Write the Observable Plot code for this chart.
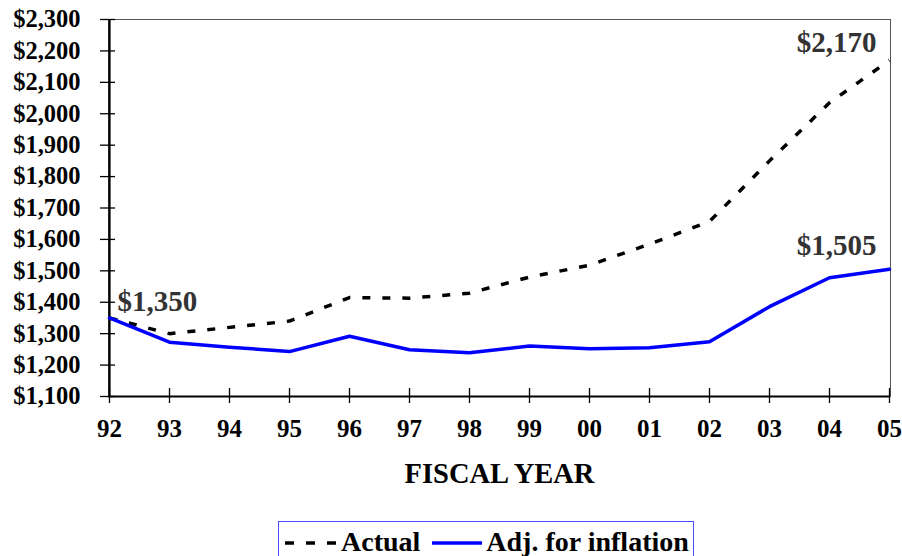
<!DOCTYPE html>
<html>
<head>
<meta charset="utf-8">
<script src="https://cdn.jsdelivr.net/npm/d3@7"></script>
<script src="https://cdn.jsdelivr.net/npm/@observablehq/plot@0.6"></script>
<style>
  html, body { margin: 0; padding: 0; background: #fff; }
  body { width: 902px; height: 556px; overflow: hidden; font-family: "Liberation Serif", "Times New Roman", serif; }
  #legend { position: absolute; left: 278px; top: 521px; height: 42px; border: 1.5px solid #4a4aff; box-sizing: border-box;
    display: flex; align-items: flex-start; padding: 6px 4px 0 6px; font-weight: bold; font-size: 28px; line-height: 28px;
    color: #000; white-space: nowrap; font-family: "Liberation Serif", "Times New Roman", serif; font-variant-ligatures: none; }
  #legend span { font-family: "Liberation Serif", "Times New Roman", serif; font-weight: bold; }
  #legend svg { display: block; margin-top: 8px; }
</style>
</head>
<body>
<div id="chart"></div>
<div id="legend"></div>
<script>
const years = ["92","93","94","95","96","97","98","99","00","01","02","03","04","05"];
const actual = [1350, 1300, 1320, 1340, 1415, 1413, 1429, 1480, 1518, 1585, 1657, 1850, 2035, 2170];
const adjusted = [1350, 1273, 1257, 1243, 1292, 1249, 1239, 1261, 1252, 1255, 1274, 1386, 1478, 1505];
const yTicks = [1100,1200,1300,1400,1500,1600,1700,1800,1900,2000,2100,2200,2300];
const seriesNames = ["Actual", "Adj. for inflation"];

const rows = [];
years.forEach((y, i) => {
  rows.push({year: y, value: actual[i], series: seriesNames[0]});
  rows.push({year: y, value: adjusted[i], series: seriesNames[1]});
});
const fmt = d => "$" + d3.format(",")(d);
const last = years.length - 1;
const font = '"Liberation Serif", "Times New Roman", serif';

const chart = Plot.plot({
  width: 902,
  height: 512,
  marginLeft: 108,
  marginRight: 12,
  marginTop: 19,
  marginBottom: 116,
  style: {fontFamily: font, fontWeight: "bold", color: "#000", background: "#fff"},
  x: {type: "point", domain: years, padding: 0},
  y: {domain: [1100, 2300]},
  marks: [
    Plot.frame({stroke: "#555", strokeWidth: 1}),
    Plot.axisY({ticks: yTicks, tickSize: 8, tickPadding: 20, tickFormat: fmt, fontSize: 24.5, fontWeight: "bold", stroke: "#000", strokeWidth: 1.3, label: null}),
    Plot.axisY({ticks: yTicks, tickSize: -7, tickFormat: () => "", stroke: "#000", strokeWidth: 1.3, label: null}),
    Plot.axisX({tickSize: 7, tickPadding: 16, fontSize: 25, fontWeight: "bold", stroke: "#000", strokeWidth: 1.3, label: null}),
    Plot.axisX({tickSize: -8, tickFormat: () => "", stroke: "#000", strokeWidth: 1.3, label: null}),
    Plot.ruleX([years[0]], {stroke: "#000", strokeWidth: 2.2}),
    Plot.ruleY([yTicks[0]], {stroke: "#000", strokeWidth: 2.2}),
    Plot.text(["FISCAL YEAR"], {frameAnchor: "bottom", dy: 86, fontSize: 28.5, fontWeight: "bold", fill: "#000"}),
    Plot.line(rows.filter(d => d.series === seriesNames[0]), {x: "year", y: "value", stroke: "#000", strokeWidth: 3.5, strokeDasharray: "8,12", strokeLinecap: "butt"}),
    Plot.line(rows.filter(d => d.series === seriesNames[1]), {x: "year", y: "value", stroke: "#0000ff", strokeWidth: 3.5}),
    Plot.text([{year: years[0], value: adjusted[0]}], {x: "year", y: "value", text: d => fmt(d.value), textAnchor: "start", dx: 8, dy: -16, fontSize: 29, fontWeight: "bold", fill: "#333"}),
    Plot.text([{year: years[last], value: actual[last]}], {x: "year", y: "value", text: d => fmt(d.value), textAnchor: "end", dx: -13, dy: -18, fontSize: 29, fontWeight: "bold", fill: "#333"}),
    Plot.text([{year: years[last], value: adjusted[last]}], {x: "year", y: "value", text: d => fmt(d.value), textAnchor: "end", dx: -13, dy: -24, fontSize: 29, fontWeight: "bold", fill: "#333"})
  ]
});
document.getElementById("chart").appendChild(chart);

const legend = document.getElementById("legend");
legend.innerHTML =
  `<svg width="56" height="14"><line x1="0" y1="7" x2="56" y2="7" stroke="#000" stroke-width="3.5" stroke-dasharray="9,12"/></svg><span style="margin-right:12px">${seriesNames[0]}</span>` +
  `<svg width="54" height="14"><line x1="0" y1="7" x2="50" y2="7" stroke="#0000ff" stroke-width="3.5"/></svg><span>${seriesNames[1]}</span>`;
</script>
</body>
</html>
